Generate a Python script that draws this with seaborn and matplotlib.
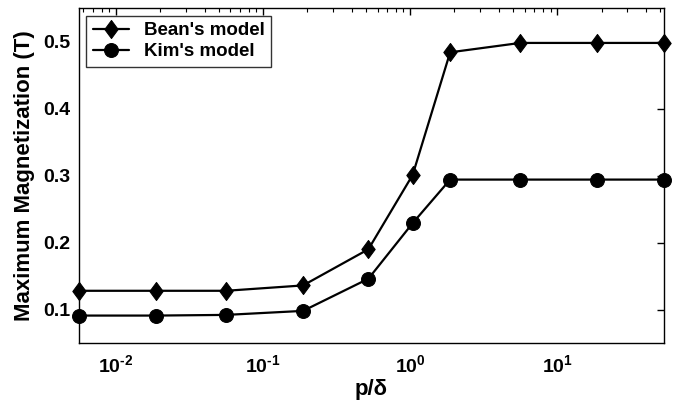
import numpy as np
import pandas as pd
import matplotlib
matplotlib.use("Agg")
import matplotlib.pyplot as plt
import seaborn as sns
from matplotlib.ticker import LogLocator, NullFormatter, FuncFormatter
from matplotlib.path import Path

p_delta = [0.0056, 0.0187, 0.056, 0.187, 0.52, 1.04, 1.87, 5.6, 18.7, 53.0]
bean = [0.128, 0.128, 0.128, 0.136, 0.190, 0.301, 0.484, 0.498, 0.498, 0.498]
kim = [0.091, 0.091, 0.092, 0.098, 0.146, 0.229, 0.294, 0.294, 0.294, 0.294]
series_names = ["Bean's model", "Kim's model"]

sns.set_theme(style="white")
plt.rcParams['font.family'] = ['Liberation Sans', 'DejaVu Sans']
plt.rcParams['font.weight'] = 'bold'
plt.rcParams['text.color'] = 'black'
plt.rcParams['axes.labelcolor'] = 'black'
plt.rcParams['xtick.color'] = 'black'
plt.rcParams['ytick.color'] = 'black'
plt.rcParams['mathtext.fontset'] = 'custom'
plt.rcParams['mathtext.rm'] = 'Liberation Sans:bold'
plt.rcParams['mathtext.bf'] = 'Liberation Sans:bold'

diamond = Path([(0, 1), (0.74, 0), (0, -1), (-0.74, 0), (0, 1)],
               [Path.MOVETO, Path.LINETO, Path.LINETO, Path.LINETO, Path.CLOSEPOLY])

fig = plt.figure(figsize=(6.78, 4.05), dpi=100)
ax = fig.add_axes([0.1165, 0.153, 0.8625, 0.827])

df_b = pd.DataFrame({"x": p_delta, "y": bean})
df_k = pd.DataFrame({"x": p_delta, "y": kim})
sns.lineplot(data=df_b, x="x", y="y", ax=ax, color="black", marker=diamond, markersize=13,
             linewidth=1.6, label=series_names[0], markeredgecolor="black", clip_on=False)
sns.lineplot(data=df_k, x="x", y="y", ax=ax, color="black", marker="o", markersize=10,
             linewidth=1.6, label=series_names[1], markeredgecolor="black", clip_on=False)

ax.set_xscale("log")
ax.set_xlim(p_delta[0], p_delta[-1])
ax.set_ylim(0.05, 0.55)
ax.set_yticks([0.1, 0.2, 0.3, 0.4, 0.5])
ax.set_yticklabels(["0.1", "0.2", "0.3", "0.4", "0.5"])
ax.xaxis.set_major_locator(LogLocator(base=10, numticks=10))


def fmt(v, pos):
    e = int(round(np.log10(v)))
    es = str(e).replace("-", r"\text{-}")
    return r"$\mathrm{10^{" + es + "}}$"


ax.xaxis.set_major_formatter(FuncFormatter(fmt))
ax.xaxis.set_minor_locator(LogLocator(base=10, subs=np.arange(2, 10), numticks=20))
ax.xaxis.set_minor_formatter(NullFormatter())

for s in ax.spines.values():
    s.set_color("black")
    s.set_linewidth(1.0)
ax.tick_params(which="both", direction="in", top=True, right=True, colors="black")
ax.tick_params(which="major", length=5, width=1.0, labelsize=14, pad=6)
ax.tick_params(axis="x", which="major", pad=8)
ax.tick_params(which="minor", length=3, width=0.8)
for lab in ax.get_xticklabels() + ax.get_yticklabels():
    lab.set_fontweight("bold")

ax.set_xlabel("p/δ", fontsize=16, fontweight="bold", labelpad=2)
ax.set_ylabel("Maximum Magnetization (T)", fontsize=16, fontweight="bold", labelpad=6)

leg = ax.legend(loc="upper left", frameon=True, fancybox=False, edgecolor="black",
                prop={"weight": "bold", "size": 13.5}, borderaxespad=0.4, handlelength=1.9,
                borderpad=0.35, labelspacing=0.2, handletextpad=0.8)
leg.get_frame().set_linewidth(1.0)

fig.savefig("out.png", dpi=100)
